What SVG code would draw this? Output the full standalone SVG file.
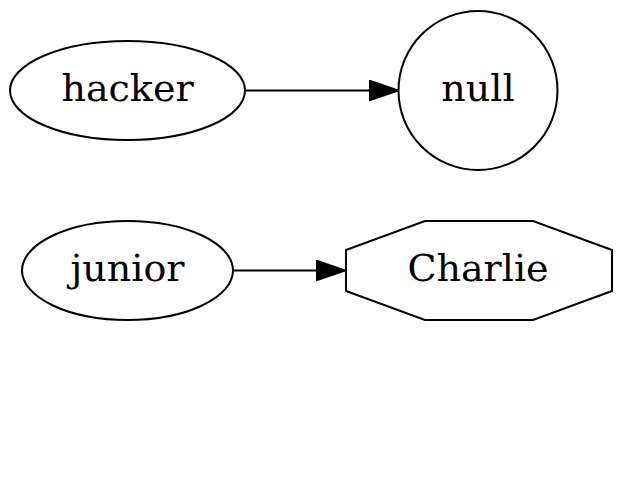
<svg xmlns="http://www.w3.org/2000/svg" width="623" height="482" viewBox="0 0 623 482">
<defs>
<style>
.n{fill:none;stroke:#000;stroke-width:2}
.e{fill:none;stroke:#000;stroke-width:2}
text{font-family:"DejaVu Serif",serif;font-size:38px;text-anchor:middle;fill:#000}
</style>
<marker id="ah" markerWidth="30" markerHeight="22" refX="29" refY="11" orient="auto" markerUnits="userSpaceOnUse">
<path d="M0,1 L29,11 L0,21 Z" fill="#000" stroke="#000" stroke-width="2"/>
</marker>
</defs>
<rect width="623" height="482" fill="#fff"/>
<g id="connectors">
<path class="e" d="M245,90.5 L398,90.5" marker-end="url(#ah)"/>
<path class="e" d="M233,270.5 L345,270.5" marker-end="url(#ah)"/>
</g>
<g id="hacker">
<ellipse class="n" cx="127.5" cy="90.5" rx="117.5" ry="49.5"/>
<text x="127.5" y="101">hacker</text>
</g>
<g id="null">
<circle class="n" cx="478" cy="90.5" r="79.5"/>
<text x="478" y="101">null</text>
</g>
<g id="junior">
<ellipse class="n" cx="127.5" cy="270.5" rx="105.5" ry="49.5"/>
<text x="127.5" y="281">junior</text>
</g>
<g id="Charlie">
<polygon class="n" points="425,221 533,221 612,250 612,291 533,320 425,320 346,291 346,250"/>
<text x="478" y="281">Charlie</text>
</g>
</svg>
